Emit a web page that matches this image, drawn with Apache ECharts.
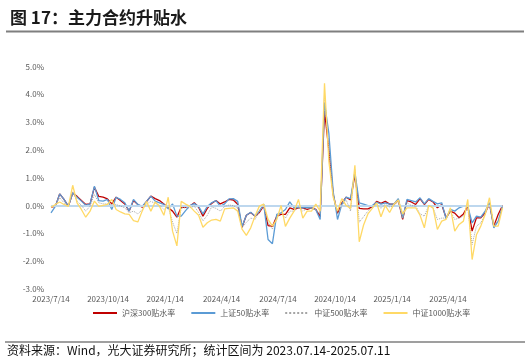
<!DOCTYPE html>
<html><head><meta charset="utf-8">
<script src="https://cdn.jsdelivr.net/npm/echarts@6/dist/echarts.min.js"></script>
<style>html,body{margin:0;padding:0;background:#fff}#c{width:530px;height:364px}</style>
</head><body><div id="c"></div>
<script>
const startDate = '2023-07-14';
const weekCount = 105;
const tickLabels = ['2023/7/14','2023/10/14','2024/1/14','2024/4/14','2024/7/14','2024/10/14','2025/1/14','2025/4/14'];
const endDate = '2025-07-11';
const seriesNames = ['沪深300贴水率','上证50贴水率','中证500贴水率','中证1000贴水率'];
const hs300 = [-0.06,-0.03,0.42,0.22,-0.03,0.45,0.33,0.18,0.04,0.06,0.66,0.33,0.30,0.24,0.06,0.30,0.18,0.06,-0.20,0.18,0.04,
 -0.06,0.14,0.34,0.25,0.18,0.06,-0.08,-0.20,-0.42,-0.06,-0.06,-0.02,0.10,-0.06,-0.38,-0.10,0.08,0.18,0.06,0.13,0.22,
 0.20,0.05,-0.78,-0.35,-0.25,-0.38,-0.25,0.00,-0.72,-0.75,-0.38,-0.32,-0.32,-0.08,-0.14,-0.08,-0.08,-0.14,-0.08,-0.14,-0.40,
 3.40,2.00,0.40,-0.28,0.10,0.30,0.20,1.10,-0.10,-0.12,-0.12,-0.05,0.15,0.08,0.15,0.05,0.05,0.20,
 -0.50,0.18,0.13,0.04,0.25,0.04,0.22,0.13,-0.08,0.04,-0.44,-0.20,-0.27,-0.44,-0.30,-0.02,-0.92,-0.44,-0.44,-0.26,0.06,-0.74,-0.32,0.00];
const sz50 = [-0.26,-0.03,0.42,0.22,-0.03,0.45,0.30,0.16,0.01,0.06,0.70,0.18,0.16,0.22,-0.14,0.30,0.22,0.10,-0.20,0.22,0.04,
 -0.03,0.15,0.34,0.16,0.10,0.04,-0.12,0.06,-0.38,-0.38,-0.18,0.00,0.07,-0.03,-0.30,-0.03,0.10,0.18,-0.03,0.06,0.24,
 0.25,0.15,-0.75,-0.35,-0.24,-0.38,-0.20,0.05,-1.22,-1.37,-0.32,-0.26,-0.14,0.13,-0.08,-0.06,-0.08,-0.06,-0.08,-0.15,-0.50,
 3.70,2.60,0.50,-0.50,0.05,0.30,0.25,1.20,0.10,0.05,0.00,0.00,0.12,0.05,0.10,0.05,0.05,0.25,
 -0.45,0.22,0.18,0.13,0.28,0.06,0.25,0.15,0.06,0.10,-0.47,-0.14,-0.20,-0.08,-0.02,-0.02,-0.62,-0.38,-0.42,-0.20,0.10,-0.80,-0.56,-0.02];
const zz500 = [-0.06,0.01,0.28,0.10,-0.03,0.50,0.16,0.01,-0.20,-0.02,0.40,0.10,0.06,0.06,0.04,0.04,-0.02,-0.08,-0.26,-0.20,-0.30,
 -0.15,0.05,0.15,0.08,0.02,-0.14,-0.05,-0.60,-1.00,-0.08,-0.08,-0.08,-0.02,-0.25,-0.55,-0.35,-0.05,-0.10,-0.20,-0.03,0.02,
 0.00,-0.10,-0.80,-0.60,-0.45,-0.50,-0.20,0.00,-0.60,-0.85,-0.45,-0.25,-0.45,-0.20,-0.20,-0.05,-0.20,-0.10,-0.10,-0.15,-0.30,
 4.00,2.00,0.40,-0.30,0.00,0.20,-0.20,1.30,-0.60,-0.40,-0.20,-0.05,0.05,-0.10,0.05,-0.05,0.00,0.15,
 -0.45,0.10,0.00,-0.02,-0.30,-0.38,0.00,-0.08,-0.50,-0.45,-0.45,-0.20,-0.50,-0.45,-0.38,-0.08,-1.40,-0.74,-0.62,-0.32,0.10,-0.68,-0.56,0.00];
const zz1000 = [-0.06,0.04,0.13,0.04,-0.03,0.73,0.10,-0.14,-0.42,-0.20,0.16,-0.03,0.01,0.04,0.22,-0.14,-0.23,-0.30,-0.32,-0.54,-0.59,
 -0.20,0.15,-0.20,0.13,-0.03,-0.35,0.30,-0.92,-1.45,0.15,0.05,-0.03,-0.20,-0.35,-0.78,-0.62,-0.52,-0.50,-0.56,-0.12,-0.10,
 -0.08,-0.20,-0.85,-1.07,-0.80,-0.38,-0.02,0.05,-0.50,-0.74,-0.50,0.00,-0.75,-0.45,-0.20,0.22,-0.45,-0.20,-0.20,0.05,-0.20,
 4.40,1.60,0.30,-0.20,0.25,0.00,-0.10,1.45,-1.30,-0.70,-0.30,-0.10,0.10,-0.40,0.00,-0.25,0.05,0.20,
 -0.30,-0.08,-0.08,-0.08,-0.35,-0.80,0.00,-0.08,-0.86,-0.56,-0.50,-0.08,-0.92,-0.68,-0.56,0.22,-1.94,-1.05,-0.74,-0.32,0.28,-0.74,-0.74,-0.08];

const DAY = 86400000;
const t0 = Date.UTC(2023, 6, 14);
function dayOf(s) { const p = s.split(/[\/-]/).map(Number); return Math.round((Date.UTC(p[0], p[1]-1, p[2]) - t0) / DAY); }
const days = []; for (let i = 0; i < weekCount; i++) days.push(i * 7);
const tickDays = tickLabels.map(dayOf);
const maxDay = dayOf(endDate);
const pair = arr => arr.map((v, i) => [days[i], v]);

const FONT = "'Noto Sans CJK SC', 'Noto Sans', sans-serif";
const chart = echarts.init(document.getElementById('c'), null, {renderer: 'canvas'});
const colors = ['#C00000', '#5B9BD5', '#A5A5A5', '#FFD966'];
const datas = [hs300, sz50, zz500, zz1000];
const series = [{
  type: 'line', data: [], silent: true, z: 1,
  markLine: {silent: true, symbol: 'none', label: {show: false}, animation: false,
    lineStyle: {color: '#BDD7EE', width: 2, type: 'solid'}, data: [{yAxis: 0}]}
}];
datas.forEach((d, k) => series.push({
  name: seriesNames[k], type: 'line', data: pair(d), symbol: 'none', z: 3 + k,
  lineStyle: {color: colors[k], width: k === 2 ? 1 : 1.3, type: k === 2 ? 'dotted' : 'solid'},
  itemStyle: {color: colors[k]}
}));
chart.setOption({
  animation: false,
  textStyle: {fontFamily: FONT},
  grid: {left: 51, right: 27.5, top: 66.5, bottom: 75, containLabel: false},
  xAxis: {type: 'value', min: 0, max: maxDay,
    axisLine: {show: false}, axisTick: {show: false}, splitLine: {show: false},
    axisLabel: {customValues: tickDays, color: '#595959', fontSize: 8, margin: 6, fontFamily: FONT,
      formatter: v => tickLabels[tickDays.indexOf(Math.round(v))] || ''}},
  yAxis: {type: 'value', min: -3, max: 5, interval: 1,
    axisLine: {show: false}, axisTick: {show: false}, splitLine: {show: false},
    axisLabel: {color: '#595959', fontSize: 8, margin: 7, fontFamily: FONT, formatter: v => v.toFixed(1) + '%'}},
  legend: {data: seriesNames, left: 87, top: 304, itemWidth: 24, itemHeight: 10, itemGap: 15,
    itemStyle: {opacity: 0},
    textStyle: {color: '#595959', fontSize: 8, fontFamily: FONT}},
  title: {text: '图 17：主力合约升贴水', left: 5, top: 4,
    textStyle: {fontSize: 17, fontWeight: 'bold', color: '#1a1a1a', fontFamily: FONT}},
  graphic: [
    {type: 'rect', shape: {x: 6, y: 30.5, width: 518, height: 2}, style: {fill: '#7F7F7F'}},
    {type: 'rect', shape: {x: 5, y: 341.5, width: 520, height: 1}, style: {fill: '#404040'}},
    {type: 'text', left: 7, top: 344, style: {text: '资料来源：Wind，光大证券研究所；统计区间为 2023.07.14-2025.07.11',
      fontSize: 12, fill: '#111', fontFamily: FONT}}
  ],
  series: series
});
</script></body></html>
